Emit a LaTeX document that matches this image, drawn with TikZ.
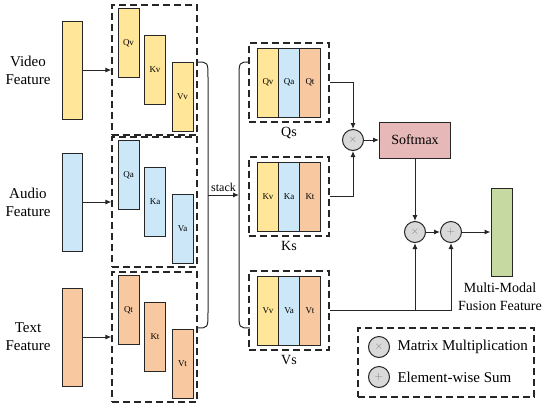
\documentclass[tikz,border=0pt]{standalone}
\usepackage{fontspec}
\setmainfont{Liberation Serif}
\usetikzlibrary{positioning, arrows.meta}

\definecolor{vidcol}{HTML}{FFE699}
\definecolor{audcol}{HTML}{CCE8F8}
\definecolor{txtcol}{HTML}{F8C8A0}
\definecolor{fuscol}{HTML}{C5D9A0}
\definecolor{smxcol}{HTML}{E6B8B7}
\definecolor{opcol}{HTML}{D9D9D9}
\definecolor{edgecol}{HTML}{262626}

\tikzset{
    feat/.style={draw=edgecol, line width=1pt, minimum width=20pt, minimum height=98pt, inner sep=0pt},
    blk/.style={draw=edgecol, line width=1pt, minimum width=21pt, minimum height=69pt, inner sep=0pt,
                font=\fontsize{9}{10}\selectfont},
    grp/.style={draw=edgecol, line width=1.1pt, dash pattern=on 7pt off 4pt, inner sep=0pt},
    opnode/.style={circle, draw=edgecol, line width=1pt, fill=opcol, minimum size=21pt, inner sep=0pt,
                   text=gray, font=\fontsize{11}{11}\selectfont},
    conn/.style={line width=1pt, draw=edgecol, -{Latex[length=6pt,width=5pt]}},
    bigtxt/.style={font=\fontsize{15}{18}\selectfont, align=center},
    midtxt/.style={font=\fontsize{14}{16}\selectfont},
}

\begin{document}
\begin{tikzpicture}[x=1pt, y=-1pt]
    \useasboundingbox (0,0) rectangle (550,408);

    % Modality inputs (left): feature bar, dashed group with Q/K/V blocks
    \foreach \m/\c/\y/\lab in {v/vidcol/70/Video, a/audcol/202/Audio, t/txtcol/337/Text} {
        \node[bigtxt] (lab-\m) at (28,\y) {\lab\\Feature};
        \node[feat, fill=\c] (f-\m) at (72,\y) {};
        \node[grp, minimum width=85pt, minimum height=130pt] (g-\m) at (154.5,\y) {};
        \node[blk, fill=\c] (q-\m) at (128.5,\y-27) {Q\m};
        \node[blk, fill=\c] (k-\m) at (155,\y) {K\m};
        \node[blk, fill=\c] (v-\m) at (182.5,\y+27) {V\m};
        \draw[conn] (f-\m.east) -- (g-\m.west);
    }

    % stacked Q/K/V groups (centre)
    \foreach \s/\y in {Q/82.5, K/196.5, V/310.5} {
        \node[grp, minimum width=80pt, minimum height=79pt] (\s s) at (289,\y) {};
        \node[blk, fill=vidcol] at (268,\y) {\s v};
        \node[blk, fill=audcol] at (289,\y) {\s a};
        \node[blk, fill=txtcol] at (310,\y) {\s t};
        \node[midtxt, below=1pt of \s s] {\s s};
    }

    % brackets and stack arrow
    \coordinate (brR-top) at (197,62);
    \coordinate (brR-bot) at (197,328);
    \coordinate (brL-top) at (250,62);
    \coordinate (brL-bot) at (250,328);
    \coordinate (stkR) at (208,195);
    \coordinate (stkL) at (239,195);
    \draw[line width=1pt, edgecol] (brR-top) .. controls (208,62) .. (208,78) -- (208,312)
        .. controls (208,328) .. (brR-bot);
    \draw[line width=1pt, edgecol] (brL-top) .. controls (239,62) .. (239,78) -- (239,312)
        .. controls (239,328) .. (brL-bot);
    \draw[conn] (stkR) -- node[above, font=\fontsize{12}{13}\selectfont] {stack} (stkL);

    % attention: Q x K -> Softmax
    \node[opnode] (mul1) at (353,140) {$\times$};
    \node[draw=edgecol, line width=1pt, fill=smxcol, minimum width=71pt, minimum height=36pt,
          midtxt] (smx) at (415,140) {Softmax};
    \draw[conn] (Qs.east) -| (mul1.north);
    \draw[conn] (Ks.east) -| (mul1.south);
    \draw[conn] (mul1.east) -- (smx.west);

    % Softmax x V + V -> fusion feature
    \node[opnode] (mul2) at (415,232) {$\times$};
    \node[opnode] (add) at (451,232) {$+$};
    \node[feat, fill=fuscol, minimum width=21pt, minimum height=88pt] (fus) at (501.5,232) {};
    \node[bigtxt, font=\fontsize{14}{18}\selectfont] (fus-lab) at (500,297) {Multi-Modal\\Fusion Feature};
    \draw[conn] (smx.south) -- (mul2.north);
    \draw[conn] (mul2.east) -- (add.west);
    \draw[conn] (add.east) -- (fus.west);
    \draw[conn] (Vs.east) -| (add.south);
    \draw[conn] (mul2.south |- Vs.east) -- (mul2.south);

    % legend
    \node[grp, minimum width=176pt, minimum height=69pt] (legend) at (446,362.5) {};
    \node[opnode] (lg-mul) at (379,347) {$\times$};
    \node[opnode] (lg-add) at (379,377) {$+$};
    \node[midtxt, font=\fontsize{15}{17}\selectfont, right=4pt of lg-mul] {Matrix Multiplication};
    \node[midtxt, font=\fontsize{15}{17}\selectfont, right=4pt of lg-add] {Element-wise Sum};
\end{tikzpicture}
\end{document}
